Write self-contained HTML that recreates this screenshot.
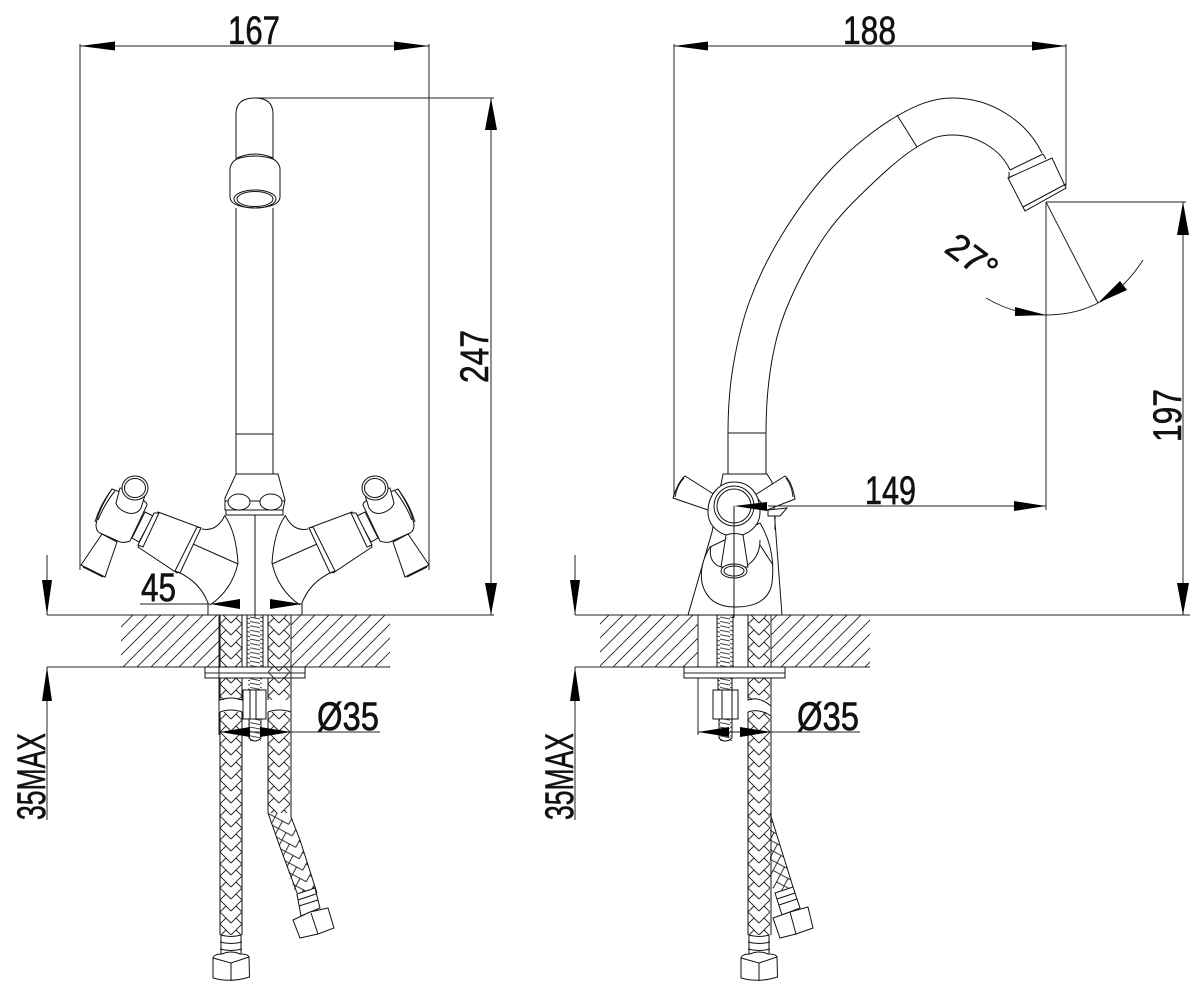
<!DOCTYPE html>
<html><head><meta charset="utf-8"><style>
html,body{margin:0;padding:0;background:#fff}
svg{display:block}
.l{fill:none;stroke:#111;stroke-width:1}
.w{fill:#fff;stroke:#111;stroke-width:1}
.d{fill:none;stroke:#222;stroke-width:1}
.a{fill:#000;stroke:none}
text{font-family:"Liberation Sans",sans-serif;font-size:40px;fill:#111;stroke:#111;stroke-width:.6}
</style></head><body>
<svg width="1204" height="996" viewBox="0 0 1204 996" xmlns="http://www.w3.org/2000/svg">
<defs>
<pattern id="h" width="14" height="14" patternUnits="userSpaceOnUse" patternTransform="translate(6,0)">
<path d="M-1 15L15 -1M-8 8L8 -8M6 22L22 6" stroke="#222" stroke-width=".9" fill="none"/>
</pattern>
<pattern id="b" width="22" height="12" patternUnits="userSpaceOnUse" patternTransform="translate(220,0)">
<path d="M0 -12L11 -1M0 0L11 11M0 12L11 23M11 -1L22 -12M11 11L22 0M11 23L22 12M6 6L0 12M6 -6L0 0M16 6L22 12M16 -6L22 0" stroke="#222" stroke-width=".9" fill="none"/>
</pattern>
<pattern id="b2" width="22" height="12" patternUnits="userSpaceOnUse" patternTransform="translate(268,0)">
<path d="M0 -12L11 -1M0 0L11 11M0 12L11 23M11 -1L22 -12M11 11L22 0M11 23L22 12M6 6L0 12M6 -6L0 0M16 6L22 12M16 -6L22 0" stroke="#222" stroke-width=".9" fill="none"/>
</pattern>
<pattern id="b3" width="22" height="12" patternUnits="userSpaceOnUse" patternTransform="translate(748,0)">
<path d="M0 -12L11 -1M0 0L11 11M0 12L11 23M11 -1L22 -12M11 11L22 0M11 23L22 12M6 6L0 12M6 -6L0 0M16 6L22 12M16 -6L22 0" stroke="#222" stroke-width=".9" fill="none"/>
</pattern>
<pattern id="b4" width="22" height="12" patternUnits="userSpaceOnUse" patternTransform="translate(282,840) rotate(-17)">
<path d="M0 -12L11 -1M0 0L11 11M0 12L11 23M11 -1L22 -12M11 11L22 0M11 23L22 12M6 6L0 12M6 -6L0 0M16 6L22 12M16 -6L22 0" stroke="#222" stroke-width=".9" fill="none"/>
</pattern>
<pattern id="b5" width="22" height="12" patternUnits="userSpaceOnUse" patternTransform="translate(770,840) rotate(-17)">
<path d="M0 -12L11 -1M0 0L11 11M0 12L11 23M11 -1L22 -12M11 11L22 0M11 23L22 12M6 6L0 12M6 -6L0 0M16 6L22 12M16 -6L22 0" stroke="#222" stroke-width=".9" fill="none"/>
</pattern>
<pattern id="t" width="10" height="4.4" patternUnits="userSpaceOnUse">
<path d="M0 1L10 3" stroke="#222" stroke-width=".9" fill="none"/>
</pattern>
<g id="handle">
<path class="w" d="M102 534L117 542L105 577L81 565Z"/>
<path class="l" d="M83 567L103 577"/>
<path class="w" d="M145 512L153 516L139 542L132 538Z"/>
<path class="w" d="M112 489Q98 510 96 525Q96 531 100 533L120 542Q125 543 130 541L147 505Q147 502 142 500Z"/>
<path class="l" d="M112 489Q100 505 95 522M115 491Q105 503 98 520"/>
<path class="w" d="M120 488L116 503Q118 510 128 513Q137 515 141 508L146 492Z"/>
<ellipse class="w" cx="135" cy="488" rx="13" ry="12"/>
<ellipse class="l" cx="135" cy="488" rx="10.5" ry="9.5"/>
<path class="w" d="M158 512L201 528L177 573L138 547Z"/>
<path class="w" d="M154 513L159 513L143 547L138 545Z"/>
<path class="w" d="M197 527L201 528L180 573L175 571Z"/>
<path class="l" d="M202 529Q217 532 225 515"/>
<path class="l" d="M225 516Q236 532 238 563Q232 590 210 605"/>
<path class="l" d="M178 572Q200 582 208 603L208 615"/>
<path class="l" d="M193 544L238 564"/>
</g>
<g id="hose-l">
<rect x="220" y="615" width="22" height="85" fill="url(#b)"/>
<rect x="220" y="712" width="22" height="223" fill="url(#b)"/>
<path class="l" d="M220 615V700Q231 696 242 700V615M220 712Q231 708 242 712V935M220 712V935"/>
<path class="w" d="M221 935Q231 938 241 935L241 956Q231 960 221 956Z"/>
<path class="l" d="M220 942Q231 945 242 942M220 949Q231 952 242 949"/>
</g>
<g id="nut">
<path class="w" d="M213 958Q214 954 222 954Q231 950 240 954Q248 954 249 957L249.500 977Q231 983 213 978Z"/>
<path class="l" d="M231 963V981M213 958L231 963L249 957"/>
</g>
</defs>
<rect width="1204" height="996" fill="#fff"/>

<!-- LEFT hatch -->
<rect x="121" y="615" width="98" height="52" fill="url(#h)"/>
<rect x="291" y="615" width="99" height="52" fill="url(#h)"/>
<!-- LEFT faucet -->
<path class="d" d="M80 44V570M429 44V570M254 98H494M47 615H494M47 667H390"/>
<path class="w" d="M236 160V114Q236 98 255 98Q273 98 273 114V160"/>
<path class="l" d="M237 158Q255 150 273 158"/>
<path class="w" d="M230 168Q232 160 240 158Q255 154 270 158Q278 160 280 168V197Q280 207 255 208Q230 207 230 197Z"/>
<ellipse class="l" cx="255" cy="199" rx="21" ry="9"/>
<ellipse class="l" cx="255" cy="199" rx="18" ry="7.5" stroke-width="1.6"/>
<path class="l" d="M236 208V474M273 208V474M236 434H273"/>
<use href="#handle"/>
<use href="#handle" transform="translate(510,0) scale(-1,1)"/>
<path class="w" d="M236 474H278L285 500L283 510H225V498Z"/>
<path class="l" d="M225 501H231M247 501H263M279 501H285"/>
<ellipse class="w" cx="239" cy="502" rx="11" ry="8"/>
<ellipse class="w" cx="271" cy="502" rx="11" ry="8"/>
<path class="l" d="M226 510V515H283V510M255 515V618"/>
<use href="#hose-l"/>
<rect x="247" y="615" width="16" height="52" fill="url(#t)"/>
<path class="l" d="M247 615V667M263 615V667"/>
<rect x="205" y="667" width="100" height="11" class="w"/>
<path class="d" d="M205 673H305"/>
<path class="d" d="M219 615V735M291 615V735"/>
<rect x="268" y="615" width="22" height="85" fill="url(#b2)"/>
<path class="l" d="M268 615V667M268 678V700M291 678V700"/>
<rect x="248" y="678" width="14" height="12" fill="url(#t)"/>
<path class="w" d="M243 690H266V719H243Z"/>
<path class="l" d="M250 690V719M256 690V719"/>
<rect x="249" y="719" width="12" height="22" fill="url(#t)"/>
<path class="l" d="M249 719V738Q255 744 261 738V719"/>
<path fill="url(#b2)" d="M268 712H290V813H268Z"/>
<path fill="url(#b4)" d="M268 813H290L300 840L317 892L297 897L280 847Z"/>
<path class="l" d="M268 712Q279 708 291 712V817L300 840L317 893M268 712V813L280 847L297 893"/>
<path class="w" d="M297 894L315 888L320 908L301 916Z"/>
<path class="l" d="M298 900L316 894M299 906L318 900"/>
<path class="w" d="M293 920L310 912L328 908L334 928L318 934L300 938Z"/>
<path class="l" d="M311 913L318 934"/>
<use href="#nut"/>
<path class="d" d="M47 555V615M47 667V820M220 732H380"/>

<!-- RIGHT hatch -->
<rect x="600" y="615" width="98" height="52" fill="url(#h)"/>
<rect x="771" y="615" width="99" height="52" fill="url(#h)"/>
<!-- RIGHT faucet -->
<path class="d" d="M674 44V495M1066 44V186M1046 202H1186M1046 202V510M575 615H1190M575 667H870"/>
<path class="d" d="M1046 202L1098 303"/>
<path class="d" d="M986 298Q1015 315 1046 315Q1108 315 1143 260"/>
<path class="l" d="M728 474V433C728 411 729.300 389.200 733 367C736.700 344.800 741.700 322.300 750 300C758.300 277.700 769.200 255.200 783 233C796.800 210.800 814 186.500 833 167C852 147.500 877 127.500 897 116C917 104.500 933 98 953 98C990 98 1026 120 1042 153"/>
<path class="l" d="M766 474V433C766 410 768 382.200 772 360C776 337.800 780.800 321.200 790 300C799.200 278.800 813.200 252.500 827 233C840.800 213.500 858 197.300 873 183C888 168.700 903.700 155 917 147C930.300 139 936.300 135 953 135C975 135 1000 148 1010 170"/>
<path class="l" d="M897 115L917 147M728 433H766"/>
<path class="l" stroke-width="1.5" d="M1010 170L1043 154"/>
<path class="w" d="M1008 178L1052 158L1066 188L1025 211Z"/>
<path class="l" d="M1009 172V178L1012 176M1043 154L1046 159"/>
<path class="l" d="M1023 207L1066 184"/>
<path class="w" d="M723 474H767L772 482L782 615H688L712 532Z"/>
<path class="w" d="M710 547Q699 565 702 583Q708 607 735 607Q768 607 772 583Q776 550 760 523Z"/>
<path class="l" d="M760 545L773 565M775 513V530"/>
<path class="w" d="M768 510L787 508L780 516L768 516Z"/>
<path class="w" d="M715 495L685 476Q678 482 673 498L708 510Z"/>
<path class="l" d="M684 478Q677 485 675 497"/>
<path class="w" d="M755 495L785 476Q792 482 795 499L767 510Z"/>
<path class="l" d="M786 478Q792 486 793 497"/>
<path class="w" d="M708 512C708 494 720 482 734 482C750 482 760 494 760 512C760 526 748 536 734 536C720 536 708 526 708 512Z"/>
<circle class="w" cx="734" cy="506" r="20"/>
<circle class="l" cx="734" cy="506" r="17" stroke-width="1.5"/>
<path class="l" d="M711 546Q708 560 718 566L723 567M760 540Q760 558 746 566"/>
<path class="w" d="M726 535Q734 532 743 535L748 567H721Z"/>
<ellipse class="w" cx="734" cy="571" rx="13" ry="7"/>
<ellipse class="l" cx="734" cy="571" rx="10" ry="5"/>
<path class="l" d="M734 506V618"/>
<!-- right hoses -->
<rect x="748" y="615" width="22" height="85" fill="url(#b3)"/>
<path class="d" d="M698 615V735M771 615V935"/>
<path class="l" d="M748 615V700Q759 696 771 706"/>
<rect x="717" y="615" width="16" height="52" fill="url(#t)"/>
<path class="l" d="M717 615V667M733 615V667"/>
<rect x="684" y="667" width="101" height="11" class="w"/>
<path class="d" d="M684 673H785"/>
<rect x="718" y="678" width="14" height="12" fill="url(#t)"/>
<path class="l" d="M718 678V690M732 678V690M748 678V700M771 678V703"/>
<path class="w" d="M713 690H738V719H713Z"/>
<path class="l" d="M722 690V719M732 690V719"/>
<rect x="719" y="719" width="13" height="22" fill="url(#t)"/>
<path class="l" d="M719 719V738Q725 744 732 738V719"/>
<path fill="url(#b5)" d="M770 813L793 887L776 894L770 883Z"/>
<path class="l" d="M770 813L793 887"/>
<path class="w" d="M775 893L793 887L800 908L782 915Z"/>
<path class="l" d="M777 899L795 893M779 905L797 899"/>
<path class="w" d="M773 918L790 912L808 907L813 928L796 934L780 938Z"/>
<path class="l" d="M790 912L796 934"/>
<rect x="748" y="712" width="22" height="223" fill="url(#b3)"/>
<path class="l" d="M748 712V935M771 716V935M748 712Q759 708 771 716"/>
<path class="w" d="M749 935Q759 938 769 935L769 956Q759 960 749 956Z"/>
<path class="l" d="M748 942Q759 945 770 942M748 949Q759 952 770 949"/>
<use href="#nut" transform="translate(528,0)"/>
<path class="d" d="M575 555V615M575 667V820M698 732H860M768 506H1046"/>
<path class="d" d="M80 46H429M674 46H1066M491 98V615M1183 202V615M140 604H210M270 604H302"/>

<!-- arrowheads -->
<path class="a" d="M80 46L115 41.500V50.500ZM429 46L394 41.500V50.500ZM674 46L708 41.500V50.500ZM1066 46L1032 41.500V50.500Z"/>
<path class="a" d="M491 98L485 130H497ZM491 615L485 583H497ZM1183 202L1177 235H1189ZM1183 615L1177 583H1189Z"/>
<path class="a" d="M47 615L42 580H52ZM47 667L42 701H52ZM575 615L570 580H580ZM575 667L570 701H580Z"/>
<path class="a" d="M210 604L240 599V609ZM302 604L270 599V609Z"/>
<path class="a" d="M220 732L250 727V737ZM291 732L260 727V737ZM698 732L729 727V737ZM771 732L740 727V737Z"/>
<path class="a" d="M734 506L767 502V511ZM1046 506L1014 501V511Z"/>
<path class="a" d="M1046 315L1015 307V316ZM1098 303L1120 281L1127 290Z"/>

<!-- labels -->
<text x="228" y="44" textLength="52" lengthAdjust="spacingAndGlyphs">167</text>
<text x="843" y="44" textLength="53" lengthAdjust="spacingAndGlyphs">188</text>
<text x="141" y="601" textLength="35" lengthAdjust="spacingAndGlyphs">45</text>
<text x="865" y="504" textLength="51" lengthAdjust="spacingAndGlyphs">149</text>
<text x="317" y="730" textLength="62" lengthAdjust="spacingAndGlyphs">Ø35</text>
<text x="797" y="730" textLength="62" lengthAdjust="spacingAndGlyphs">Ø35</text>
<text transform="translate(488,383) rotate(-90)" textLength="53" lengthAdjust="spacingAndGlyphs">247</text>
<text transform="translate(1181,442) rotate(-90)" textLength="53" lengthAdjust="spacingAndGlyphs">197</text>
<text transform="translate(45,820) rotate(-90)" textLength="87" lengthAdjust="spacingAndGlyphs">35MAX</text>
<text transform="translate(573,820) rotate(-90)" textLength="87" lengthAdjust="spacingAndGlyphs">35MAX</text>
<text transform="translate(943,251) rotate(37)" font-size="36" style="font-size:36px" textLength="54" lengthAdjust="spacingAndGlyphs">27°</text>
</svg>
</body></html>
